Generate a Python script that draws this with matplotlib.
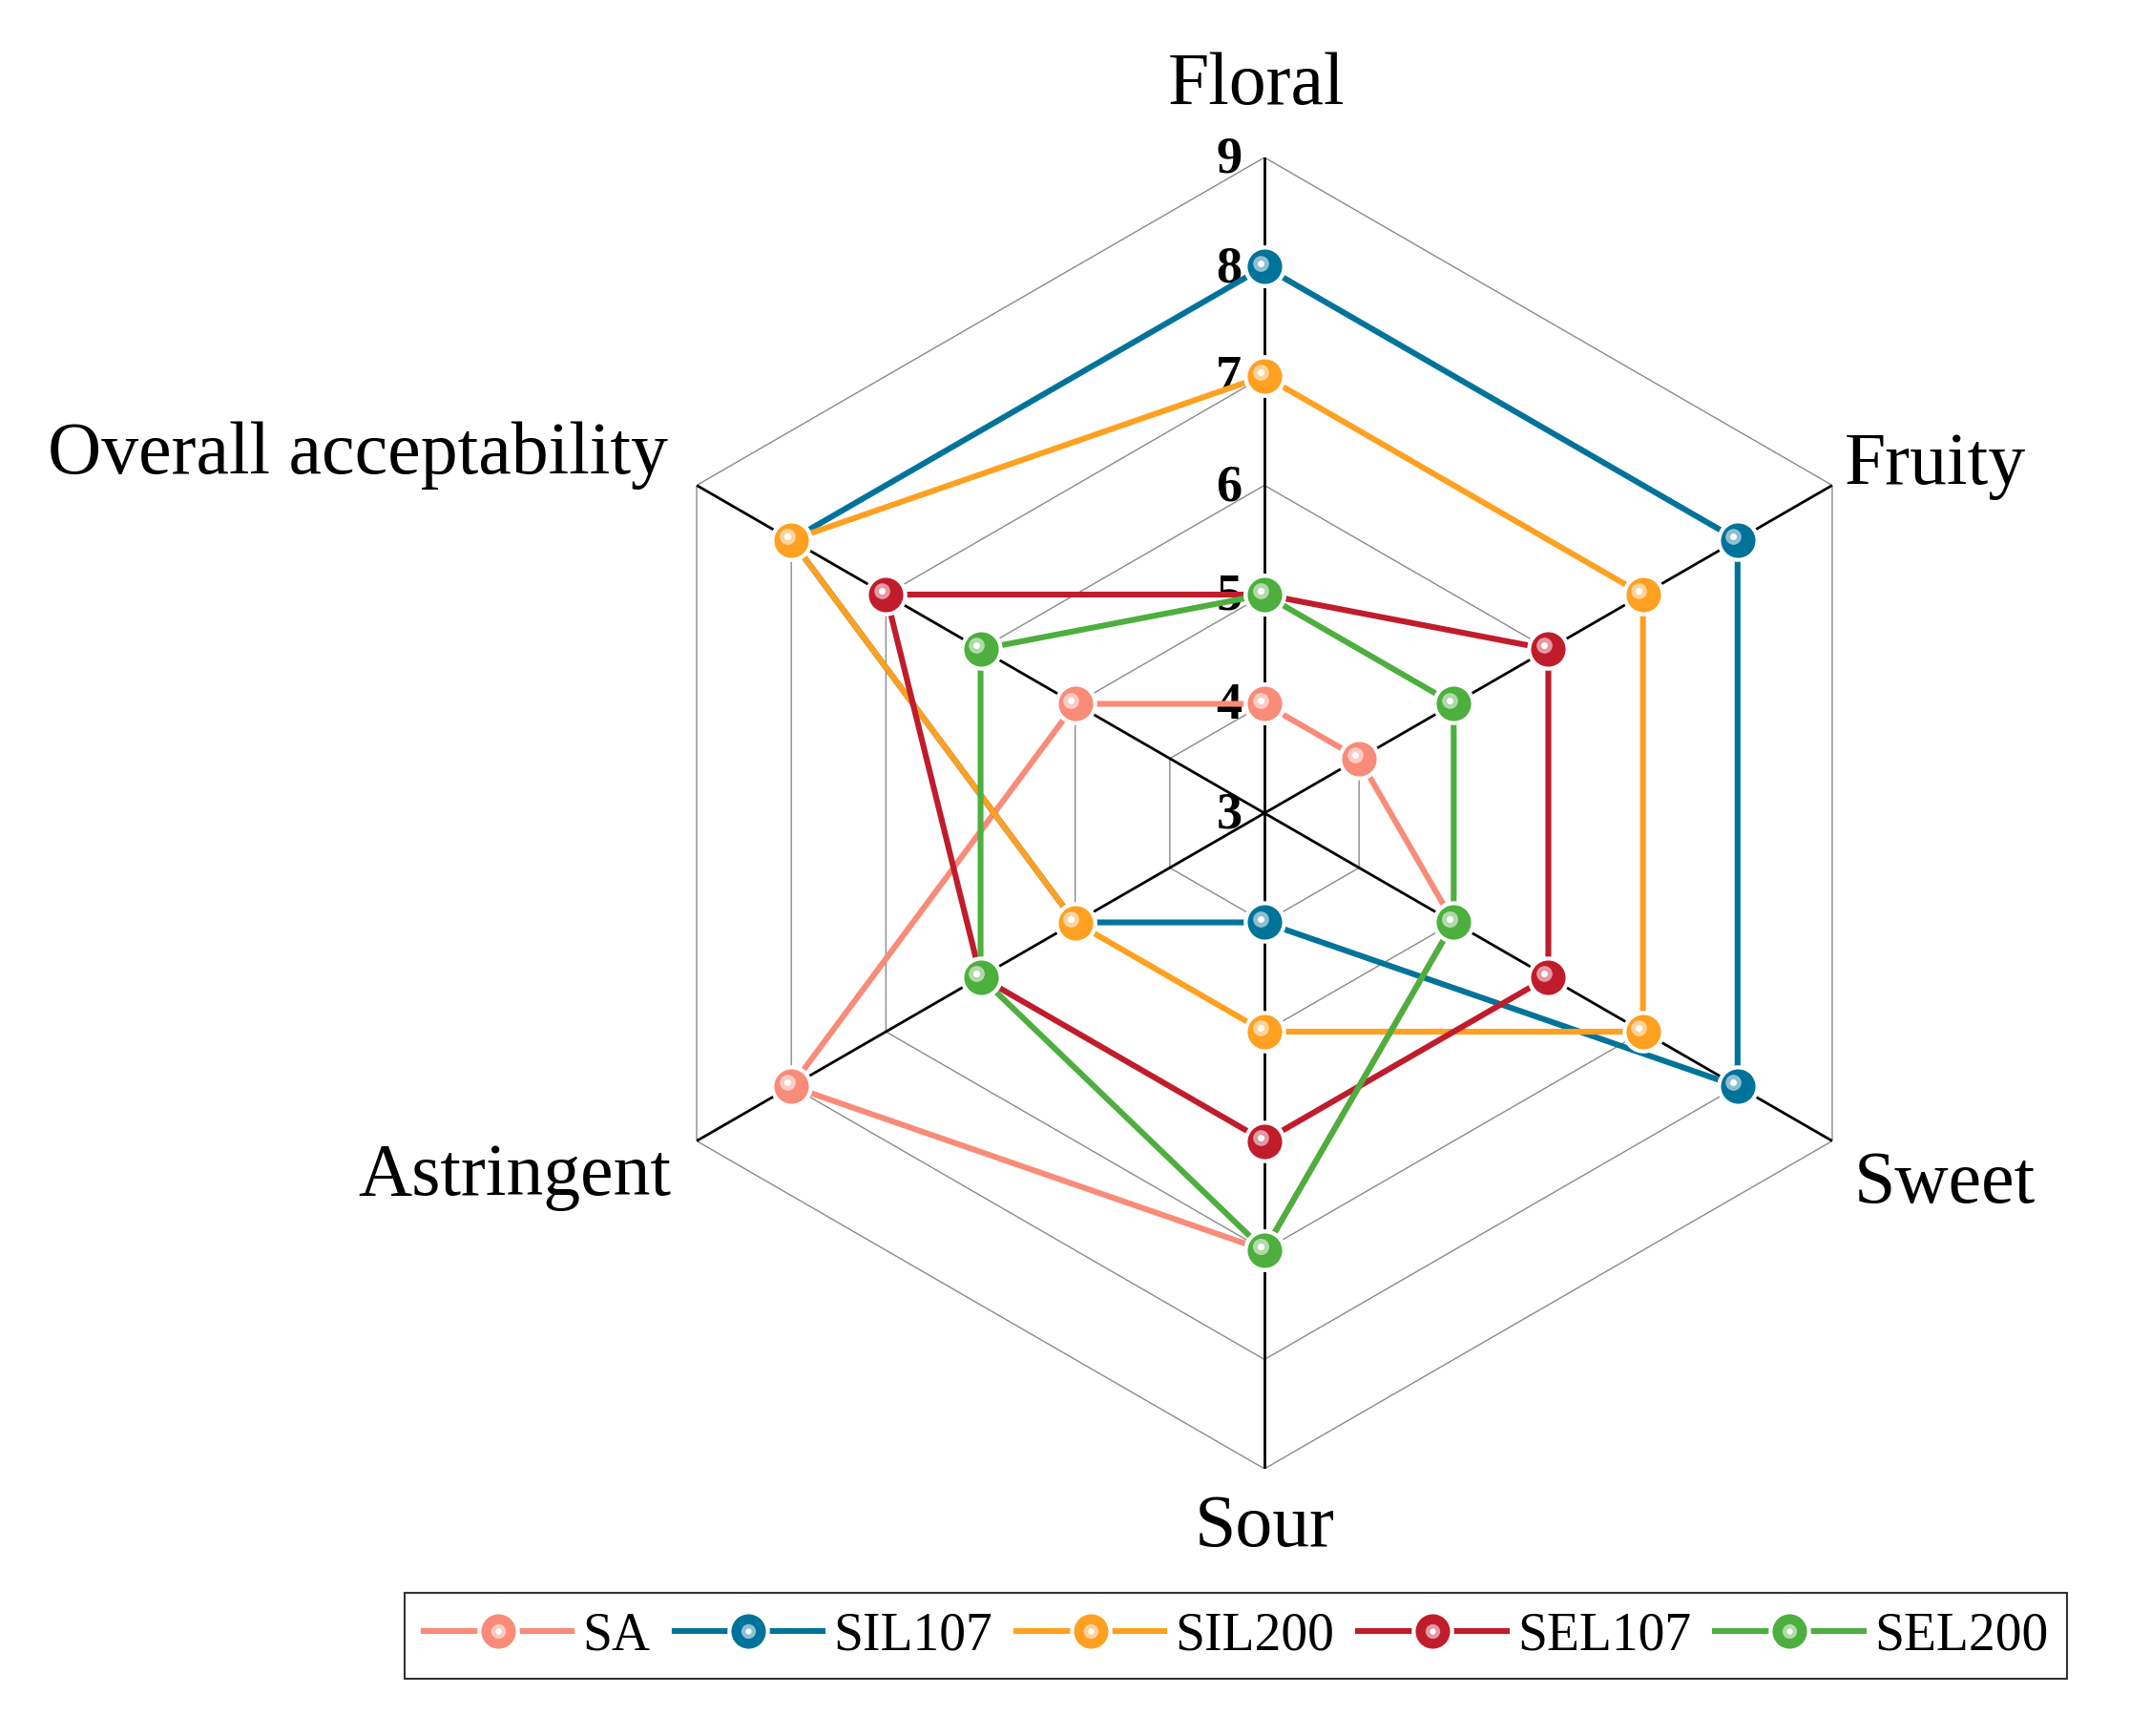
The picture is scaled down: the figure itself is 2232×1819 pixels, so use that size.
import numpy as np
import matplotlib
matplotlib.use("Agg")
import matplotlib.pyplot as plt
from matplotlib.lines import Line2D
from matplotlib.legend_handler import HandlerTuple
import matplotlib.transforms as mtransforms
import matplotlib.colors as mcolors

plt.rcParams['font.family'] = ['Liberation Serif', 'DejaVu Serif']

categories = ["Floral", "Fruity", "Sweet", "Sour", "Astringent", "Overall acceptability"]
series_names = ["SA", "SIL107", "SIL200", "SEL107", "SEL200"]
SA = [4, 4, 5, 7, 8, 5]
SIL107 = [8, 8, 8, 4, 5, 8]
SIL200 = [7, 7, 7, 5, 5, 8]
SEL107 = [5, 6, 6, 6, 6, 7]
SEL200 = [5, 5, 5, 7, 6, 6]
series_values = [SA, SIL107, SIL200, SEL107, SEL200]
colors = ["#F98B79", "#00739A", "#FFA020", "#C01C2C", "#4CAF3E"]
r_ticks = [3, 4, 5, 6, 7, 8, 9]
r_min, r_max = 3, 9

W, H = 2232, 1819
fig = plt.figure(figsize=(W / 100, H / 100), dpi=100)
cx, cy, R = 1325, 852, 687
ax = fig.add_axes([(cx - R) / W, 1 - (cy + R) / H, 2 * R / W, 2 * R / H], projection='polar')
ax.set_theta_offset(np.pi / 2)
ax.set_theta_direction(-1)
ax.set_ylim(r_min, r_max)
ax.grid(False)
ax.spines['polar'].set_visible(False)
ax.set_xticks([])
ax.set_yticks([])
ax.patch.set_alpha(0)

n = len(categories)
theta = np.arange(n) * 2 * np.pi / n
theta_closed = np.append(theta, theta[0])

# hexagonal grid
for r in r_ticks[1:]:
    ax.plot(theta_closed, [r] * (n + 1), color="#8a8a8a", lw=1.0, zorder=1)
# spokes
for t in theta:
    ax.plot([t, t], [r_min, r_max], color="black", lw=2.0, zorder=2)

# radial tick labels
for r in r_ticks:
    ax.annotate(str(r), xy=(0, r), xytext=(-17, -2), textcoords='offset points',
                ha='right', va='center', fontsize=39, fontweight='bold', zorder=3)

MS, MEW, LW = 29, 3.0, 4.4
hl_off = mtransforms.offset_copy(ax.transData, fig=fig, x=-3.2, y=2.8, units='points')
handles = []
for name, vals, c in zip(series_names, series_values, colors):
    v = np.append(vals, vals[0])
    ax.plot(theta_closed, v, color=c, lw=LW, marker='o', markersize=MS,
            markerfacecolor=c, markeredgecolor='white', markeredgewidth=MEW,
            zorder=5, solid_capstyle='round')
    light = mcolors.to_hex(0.45 * np.array(mcolors.to_rgb(c)) + 0.55)
    ax.plot(theta, vals, linestyle='none', marker='o', markersize=12,
            markerfacecolor=light, markeredgewidth=0, transform=hl_off, zorder=6)
    ax.plot(theta, vals, linestyle='none', marker='o', markersize=5,
            markerfacecolor='white', markeredgewidth=0, transform=hl_off, zorder=7)
    h1 = Line2D([], [], color=c, lw=LW, marker='o', markersize=MS,
                markerfacecolor=c, markeredgecolor='white', markeredgewidth=MEW)
    h2 = Line2D([], [], linestyle='none', marker='o', markersize=11,
                markerfacecolor=light, markeredgewidth=0)
    h3 = Line2D([], [], linestyle='none', marker='o', markersize=4.5,
                markerfacecolor='white', markeredgewidth=0)
    handles.append((h1, h2, h3))

# category labels (figure pixel positions)
label_pos = [
    (1317, 90, 'center', 'center'),
    (1933, 488, 'left', 'center'),
    (1943, 1241, 'left', 'center'),
    (1325, 1601, 'center', 'center'),
    (703, 1233, 'right', 'center'),
    (700, 477, 'right', 'center'),
]
for lab, (x, y, ha, va) in zip(categories, label_pos):
    fig.text(x / W, 1 - y / H, lab, ha=ha, va=va, fontsize=56)

leg = fig.legend(handles, series_names, handler_map={tuple: HandlerTuple(ndivide=1, pad=0)},
                 loc='center', bbox_to_anchor=(1295 / W, 1 - 1714 / H), ncol=5,
                 fontsize=40, frameon=True, fancybox=False, edgecolor='black',
                 handlelength=2.8, handletextpad=0.2, columnspacing=0.45,
                 borderpad=0.35, borderaxespad=0)
leg.get_frame().set_linewidth(1.5)

fig.savefig("out.png", dpi=100, facecolor='white')
